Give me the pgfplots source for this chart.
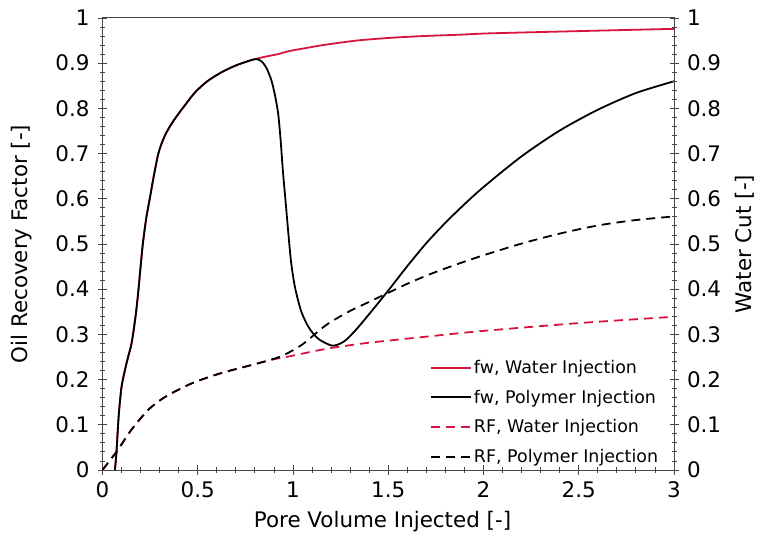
\documentclass[border=0pt]{standalone}
\usepackage{pgfplots}
\pgfplotsset{compat=1.18}
\usepackage{fontspec}
\setmainfont{DejaVu Sans}
\definecolor{crim}{RGB}{214,20,62}
\definecolor{axgray}{RGB}{70,70,70}

\pgfplotstableread{
x y
0.065 0.0
0.073 0.037
0.085 0.120
0.100 0.184
0.120 0.225
0.135 0.251
0.150 0.275
0.161 0.302
0.175 0.345
0.187 0.391
0.200 0.450
0.213 0.505
0.230 0.558
0.248 0.600
0.270 0.652
0.292 0.698
0.310 0.722
0.330 0.742
0.355 0.761
0.385 0.780
0.420 0.800
0.485 0.835
0.550 0.860
0.625 0.880
0.700 0.895
0.782 0.907
0.850 0.914
0.920 0.920
0.982 0.927
1.061 0.933
1.157 0.940
1.332 0.950
1.507 0.956
1.681 0.960
1.874 0.963
2.030 0.966
2.500 0.971
3.000 0.976
}\fwwater

\pgfplotstableread{
x y
0.065 0.0
0.073 0.037
0.085 0.120
0.100 0.184
0.120 0.225
0.135 0.251
0.150 0.275
0.161 0.302
0.175 0.345
0.187 0.391
0.200 0.450
0.213 0.505
0.230 0.558
0.248 0.600
0.270 0.652
0.292 0.698
0.310 0.722
0.330 0.742
0.355 0.761
0.385 0.780
0.420 0.800
0.485 0.835
0.550 0.860
0.625 0.880
0.700 0.895
0.782 0.907
0.810 0.909
0.835 0.904
0.860 0.890
0.886 0.863
0.905 0.830
0.922 0.789
0.935 0.730
0.948 0.656
0.962 0.590
0.974 0.531
0.990 0.460
1.010 0.405
1.040 0.355
1.070 0.325
1.100 0.305
1.140 0.288
1.209 0.275
1.270 0.285
1.330 0.310
1.400 0.345
1.500 0.397
1.600 0.451
1.700 0.502
1.800 0.547
1.900 0.588
2.000 0.626
2.200 0.694
2.400 0.751
2.600 0.797
2.800 0.834
3.000 0.860
}\fwpoly

\pgfplotstableread{
x y
0.00 0.000
0.04 0.022
0.08 0.044
0.15 0.088
0.24 0.133
0.33 0.162
0.47 0.192
0.62 0.214
0.78 0.232
0.90 0.245
0.95 0.249
1.00 0.253
1.10 0.262
1.20 0.270
1.35 0.279
1.45 0.284
1.70 0.295
1.98 0.307
2.50 0.325
3.00 0.339
}\rfwater

\pgfplotstableread{
x y
0.00 0.000
0.04 0.022
0.08 0.044
0.15 0.088
0.24 0.133
0.33 0.162
0.47 0.192
0.62 0.214
0.78 0.232
0.90 0.246
0.95 0.254
1.00 0.265
1.05 0.278
1.10 0.295
1.15 0.313
1.20 0.328
1.30 0.352
1.40 0.372
1.50 0.392
1.60 0.412
1.70 0.430
1.80 0.446
1.90 0.461
2.00 0.475
2.20 0.501
2.40 0.523
2.60 0.541
2.80 0.553
3.00 0.561
}\rfpoly

\begin{document}
\begin{tikzpicture}
\pgfplotsset{
  common/.style={
    scale only axis, width=571.5bp, height=452bp,
    xmin=0, xmax=3, ymin=0, ymax=1,
    tick label style={font=\fontsize{21.5}{25}\selectfont},
    /pgf/number format/assume math mode=true,
    /pgf/number format/fixed,
    axis line style={axgray, line width=1bp},
    tick style={axgray, line width=0.9bp},
    major tick length=9bp, minor tick length=5bp,
    tick align=center,
    ytick={0,0.1,...,1.0},
    minor y tick num=4,
  }
}
\begin{axis}[common,
  xtick={0,0.5,...,3}, minor x tick num=4,
  xtick pos=bottom, ytick pos=left,
  xticklabel style={yshift=-4bp},
  yticklabel style={xshift=-5bp},
  xlabel={Pore Volume Injected [-]},
  ylabel={Oil Recovery Factor [-]},
  label style={font=\fontsize{21.5}{25}\selectfont},
  xlabel style={at={(axis description cs:0.49,-0.115)}, anchor=center},
  ylabel style={at={(axis description cs:-0.141,0.5)}, anchor=center},
  legend style={draw=none, fill=none, font=\fontsize{17.5}{20}\selectfont,
    at={(axis description cs:0.573,0.008)}, anchor=south west,
    inner sep=0pt, row sep=11bp},
  legend cell align=left,
  legend image code/.code={\draw[#1] (0bp,0bp) -- (40bp,0bp);},
  every axis plot/.append style={line width=1.8bp},
]
\addplot[crim, smooth, tension=0.45] table {\fwwater};
\addlegendentry{fw, Water Injection}
\addplot[black, smooth, tension=0.45] table {\fwpoly};
\addlegendentry{fw, Polymer Injection}
\addplot[crim, dash pattern=on 9bp off 6bp, smooth, tension=0.45] table {\rfwater};
\addlegendentry{RF, Water Injection}
\addplot[black, dash pattern=on 9bp off 6bp, smooth, tension=0.45] table {\rfpoly};
\addlegendentry{RF, Polymer Injection}
\end{axis}
\begin{axis}[common,
  axis x line=none, axis y line*=right,
  ytick pos=right,
  yticklabel style={xshift=5bp},
  ylabel={Water Cut [-]},
  label style={font=\fontsize{21.5}{25}\selectfont},
  ylabel style={at={(axis description cs:1.124,0.5)}, anchor=center},
]
\end{axis}
\pgfresetboundingbox
\path (current axis.south west) ++(-102.5bp,-72bp) rectangle ++(761bp,542bp);
\end{tikzpicture}
\end{document}
